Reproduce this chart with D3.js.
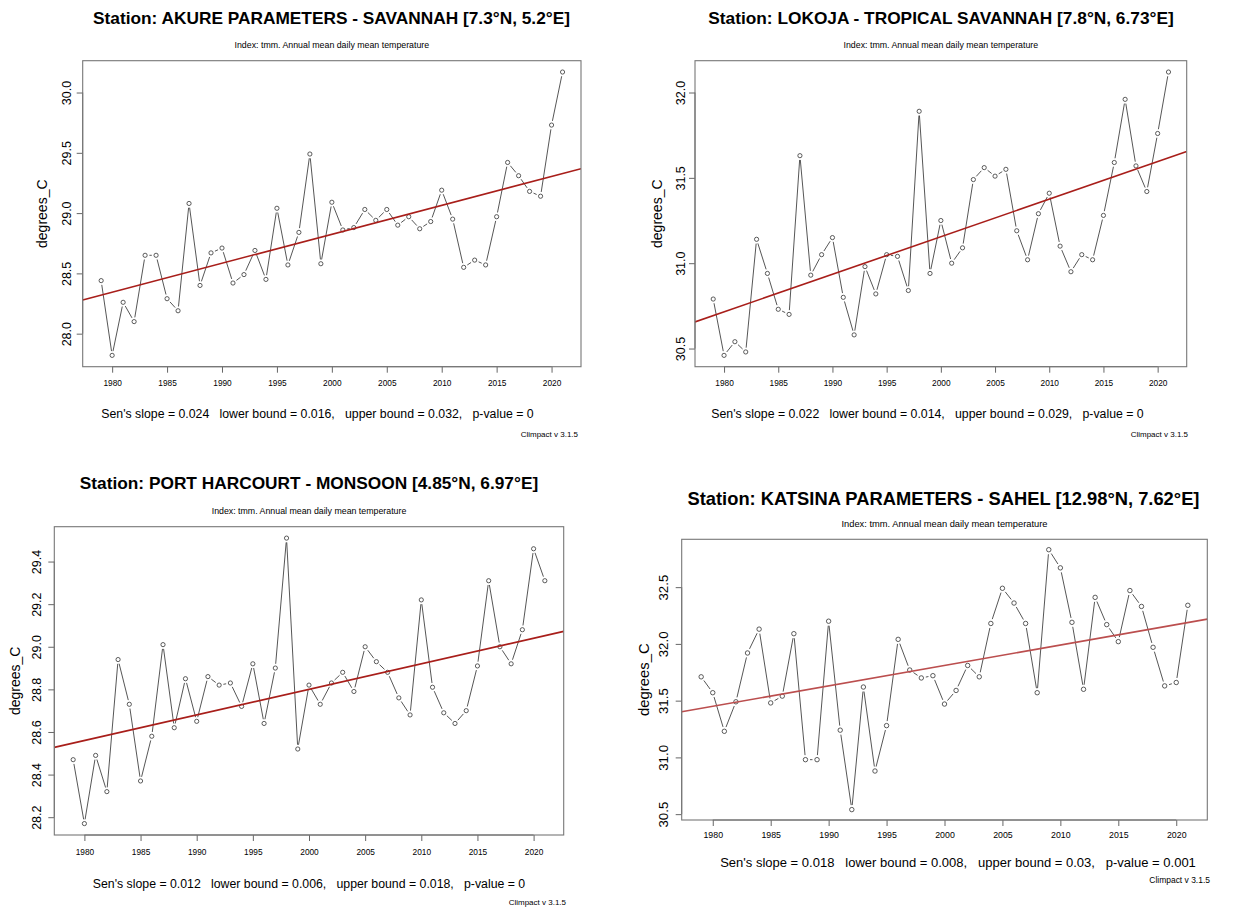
<!DOCTYPE html>
<html>
<head>
<meta charset="utf-8">
<script src="https://cdn.jsdelivr.net/npm/d3@7"></script>
<style>
  body { margin: 0; background: #fff; }
  svg { display: block; }
  text { font-family: "Liberation Sans", Arial, Helvetica, sans-serif; fill: #000; }
</style>
</head>
<body>
<svg id="fig" width="1248" height="910"></svg>
<script>
// Annual mean of daily mean temperature (tmm), 1979-2021
const years = d3.range(1979, 2022);

const akureTmm = [28.44, 27.82, 28.26, 28.10, 28.65, 28.65, 28.29, 28.19, 29.08, 28.40,
  28.67, 28.71, 28.42, 28.49, 28.69, 28.45, 29.04, 28.57, 28.84, 29.49,
  28.58, 29.09, 28.86, 28.88, 29.03, 28.94, 29.03, 28.90, 28.97, 28.87,
  28.93, 29.19, 28.95, 28.55, 28.61, 28.57, 28.97, 29.42, 29.31, 29.18,
  29.14, 29.73, 30.17];

const lokojaTmm = [30.79, 30.46, 30.54, 30.48, 31.14, 30.94, 30.73, 30.70, 31.63, 30.93,
  31.05, 31.15, 30.80, 30.58, 30.98, 30.82, 31.05, 31.04, 30.84, 31.89,
  30.94, 31.25, 31.00, 31.09, 31.49, 31.56, 31.51, 31.55, 31.19, 31.02,
  31.29, 31.41, 31.10, 30.95, 31.05, 31.02, 31.28, 31.59, 31.96, 31.57,
  31.42, 31.76, 32.12];

const portHarcourtTmm = [28.47, 28.17, 28.49, 28.32, 28.94, 28.73, 28.37, 28.58, 29.01, 28.62,
  28.85, 28.65, 28.86, 28.82, 28.83, 28.72, 28.92, 28.64, 28.90, 29.51,
  28.52, 28.82, 28.73, 28.83, 28.88, 28.79, 29.00, 28.93, 28.88, 28.76,
  28.68, 29.22, 28.81, 28.69, 28.64, 28.70, 28.91, 29.31, 29.00, 28.92,
  29.08, 29.46, 29.31];

const katsinaTmm = [31.71, 31.57, 31.23, 31.49, 31.92, 32.13, 31.48, 31.54, 32.09, 30.98,
  30.98, 32.20, 31.24, 30.54, 31.62, 30.88, 31.28, 32.04, 31.77, 31.70,
  31.72, 31.47, 31.59, 31.81, 31.71, 32.18, 32.49, 32.36, 32.18, 31.57,
  32.83, 32.67, 32.19, 31.60, 32.41, 32.17, 32.02, 32.47, 32.33, 31.97,
  31.63, 31.66, 32.34];

const seriesList = [akureTmm, lokojaTmm, portHarcourtTmm, katsinaTmm];

const stationNames = [
  "AKURE PARAMETERS - SAVANNAH [7.3°N, 5.2°E]",
  "LOKOJA - TROPICAL SAVANNAH [7.8°N, 6.73°E]",
  "PORT HARCOURT - MONSOON [4.85°N, 6.97°E]",
  "KATSINA PARAMETERS - SAHEL [12.98°N, 7.62°E]"
];

// Sen's slope statistics per station
const senSlope   = [0.024, 0.022, 0.012, 0.018];
const lowerBound = ["0.016", "0.014", "0.006", "0.008"];
const upperBound = ["0.032", "0.029", "0.018", "0.03"];
const pValue     = ["0", "0", "0", "0.001"];
// level of the trend line in the year 2000
const trendAt2000 = [28.824, 31.155, 28.80, 31.81];

const xTicks = [1980, 1985, 1990, 1995, 2000, 2005, 2010, 2015, 2020];
const yTicks = [
  [28.0, 28.5, 29.0, 29.5, 30.0],
  [30.5, 31.0, 31.5, 32.0],
  [28.2, 28.4, 28.6, 28.8, 29.0, 29.2, 29.4],
  [30.5, 31.0, 31.5, 32.0, 32.5]
];
const yTickLabels = [
  ["28.0", "28.5", "29.0", "29.5", "30.0"],
  ["30.5", "31.0", "31.5", "32.0"],
  ["28.2", "28.4", "28.6", "28.8", "29.0", "29.2", "29.4"],
  ["30.5", "31.0", "31.5", "32.0", "32.5"]
];

const indexLabel = "Index: tmm. Annual mean daily mean temperature";
const yLabel = "degrees_C";
const versionLabel = "Climpact v 3.1.5";

// Panel geometry
const panels = [
  { x0: 82.7, x1: 581, y0: 60.7, y1: 366.7, titleX: 331.5, titleY: 24, subY: 48,
    yTickX: 66, yLabX: 42, xTickY: 386, senX: 317.5, senY: 418, verX: 578, verY: 437, s: 1, trend: "#a81e1a" },
  { x0: 695, x1: 1186.7, y0: 60.7, y1: 366.7, titleX: 941, titleY: 24, subY: 48,
    yTickX: 680, yLabX: 656.7, xTickY: 386, senX: 927.5, senY: 418, verX: 1188, verY: 437, s: 1, trend: "#a81e1a" },
  { x0: 54.3, x1: 563.7, y0: 526.7, y1: 835, titleX: 309, titleY: 489, subY: 514,
    yTickX: 36.7, yLabX: 15, xTickY: 855, senX: 309, senY: 888, verX: 566, verY: 905, s: 1, trend: "#a81e1a" },
  { x0: 681.7, x1: 1207.3, y0: 539.3, y1: 820, titleX: 943.5, titleY: 505, subY: 527,
    yTickX: 663.3, yLabX: 643.3, xTickY: 838, senX: 958, senY: 867, verX: 1210, verY: 883, s: 1.06, trend: "#bb4e4e" }
];

const svg = d3.select("#fig");
svg.append("rect").attr("width", 1248).attr("height", 910).attr("fill", "#fff");

// R-style axis extent: data range padded by 4% on each side
function padded(ext) {
  const d = (ext[1] - ext[0]) * 0.04;
  return [ext[0] - d, ext[1] + d];
}

panels.forEach((p, i) => {
  const vals = seriesList[i];
  const s = p.s;
  const g = svg.append("g");

  const x = d3.scaleLinear().domain(padded(d3.extent(years))).range([p.x0, p.x1]);
  const y = d3.scaleLinear().domain(padded(d3.extent(vals))).range([p.y1, p.y0]);

  // titles
  g.append("text").attr("x", p.titleX).attr("y", p.titleY)
    .attr("text-anchor", "middle").attr("font-weight", "bold")
    .attr("font-size", 17.3 * s).text("Station: " + stationNames[i]);
  g.append("text").attr("x", (p.x0 + p.x1) / 2).attr("y", p.subY)
    .attr("text-anchor", "middle").attr("font-size", 8.8 * s).attr("fill", "#111").text(indexLabel);

  // x axis
  const xAxis = d3.axisBottom(x).tickValues(xTicks).tickFormat(d3.format("d"))
    .tickSize(6).tickPadding(0);
  const gx = g.append("g").attr("transform", `translate(0,${p.y1})`).call(xAxis);
  gx.select(".domain").remove();
  gx.selectAll(".tick line").attr("stroke", "#666");
  gx.selectAll(".tick text").attr("y", p.xTickY - p.y1).attr("dy", 0)
    .attr("font-size", 8.3 * s).attr("fill", "#111");
  gx.append("line").attr("x1", x(xTicks[0])).attr("x2", x(xTicks[xTicks.length - 1]))
    .attr("y1", 0).attr("y2", 0).attr("stroke", "#666");

  // y axis with rotated labels
  const yAxis = d3.axisLeft(y).tickValues(yTicks[i])
    .tickFormat((d, k) => yTickLabels[i][k]).tickSize(6);
  const gy = g.append("g").attr("transform", `translate(${p.x0},0)`).call(yAxis);
  gy.select(".domain").remove();
  gy.selectAll(".tick line").attr("stroke", "#666");
  gy.selectAll(".tick text")
    .attr("x", 0).attr("dy", 0).attr("text-anchor", "middle")
    .attr("font-size", 12.5 * s).attr("fill", "#000")
    .attr("transform", `translate(${p.yTickX - p.x0 + 4.5 * s},0) rotate(-90)`);
  gy.append("line").attr("x1", 0).attr("x2", 0)
    .attr("y1", y(yTicks[i][0])).attr("y2", y(yTicks[i][yTicks[i].length - 1])).attr("stroke", "#666");

  g.append("text")
    .attr("transform", `translate(${p.yLabX + 5 * s},${(p.y0 + p.y1) / 2}) rotate(-90)`)
    .attr("text-anchor", "middle").attr("font-size", 14 * s).text(yLabel);

  // connecting segments with gaps around the points
  const pts = years.map((yr, k) => [x(yr), y(vals[k])]);
  const gap = 4.3 * s;
  const segs = [];
  for (let k = 0; k < pts.length - 1; k++) {
    const [ax, ay] = pts[k], [bx, by] = pts[k + 1];
    const len = Math.hypot(bx - ax, by - ay);
    if (len > 2 * gap) {
      const ux = (bx - ax) / len, uy = (by - ay) / len;
      segs.push([ax + ux * gap, ay + uy * gap, bx - ux * gap, by - uy * gap]);
    }
  }
  g.append("g").selectAll("line").data(segs).join("line")
    .attr("x1", d => d[0]).attr("y1", d => d[1]).attr("x2", d => d[2]).attr("y2", d => d[3])
    .attr("stroke", "#2b2b2b").attr("stroke-width", 0.8);

  g.append("g").selectAll("circle").data(pts).join("circle")
    .attr("cx", d => d[0]).attr("cy", d => d[1]).attr("r", 2.1 * s)
    .attr("fill", "none").attr("stroke", "#333").attr("stroke-width", 0.8);

  // Sen's slope trend line
  const clipId = "clip" + i;
  g.append("clipPath").attr("id", clipId).append("rect")
    .attr("x", p.x0).attr("y", p.y0).attr("width", p.x1 - p.x0).attr("height", p.y1 - p.y0);
  const xd = x.domain();
  const trendVal = yr => trendAt2000[i] + senSlope[i] * (yr - 2000);
  g.append("line").attr("clip-path", `url(#${clipId})`)
    .attr("x1", x(xd[0])).attr("y1", y(trendVal(xd[0])))
    .attr("x2", x(xd[1])).attr("y2", y(trendVal(xd[1])))
    .attr("stroke", p.trend).attr("stroke-width", 1.6);

  // plot box
  g.append("rect").attr("x", p.x0).attr("y", p.y0)
    .attr("width", p.x1 - p.x0).attr("height", p.y1 - p.y0)
    .attr("fill", "none").attr("stroke", "#777").attr("stroke-width", 1.1);

  // statistics line and version tag
  g.append("text").attr("x", p.senX).attr("y", p.senY)
    .attr("text-anchor", "middle").attr("font-size", 12.3 * s)
    .attr("xml:space", "preserve").style("white-space", "pre")
    .text(`Sen's slope = ${senSlope[i]}   lower bound = ${lowerBound[i]},   upper bound = ${upperBound[i]},   p-value = ${pValue[i]}`);
  g.append("text").attr("x", p.verX).attr("y", p.verY)
    .attr("text-anchor", "end").attr("font-size", 8 * s).attr("fill", "#222").text(versionLabel);
});
</script>
</body>
</html>
